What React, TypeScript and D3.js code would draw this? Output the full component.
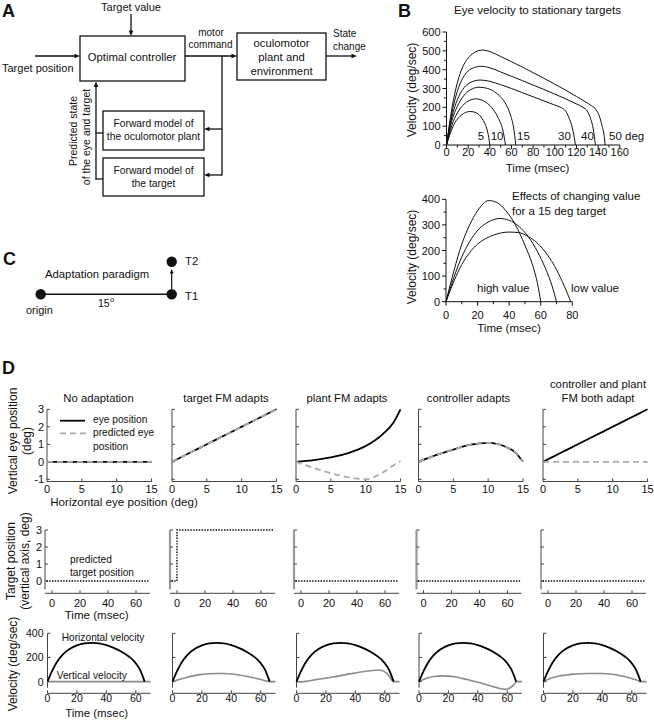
import React from 'react';
import * as d3 from 'd3';

const FONT = "'Liberation Sans', Arial, Helvetica, sans-serif";

// ---------------- Panel B (top): eye velocity to stationary targets ----------------
const bTopLabels = ['5', '10', '15', '30', '40', '50 deg'];
const bVel5: [number, number][] = [[0, 0], [4, 70], [8, 120], [12, 150], [16, 168], [22, 178], [27, 172], [31, 155], [34, 130], [37, 90], [39, 40], [40, 0]];
const bVel10: [number, number][] = [[0, 0], [5, 105], [10, 170], [15, 210], [20, 233], [27, 245], [33, 238], [38, 220], [43, 190], [48, 140], [52, 80], [54.5, 0]];
const bVel15: [number, number][] = [[0, 0], [5, 130], [10, 205], [15, 255], [20, 285], [30, 307], [38, 300], [45, 280], [50, 255], [55, 215], [59, 160], [62, 90], [64, 0]];
const bVel30: [number, number][] = [[0, 0], [5, 150], [10, 240], [15, 295], [20, 325], [31, 345], [40, 338], [50, 320], [60, 300], [70, 278], [80, 256], [90, 234], [100, 212], [106, 198], [110, 180], [113, 145], [116, 95], [118, 40], [119, 0]];
const bVel40: [number, number][] = [[0, 0], [5, 170], [10, 285], [15, 355], [20, 393], [25, 410], [32, 418], [40, 410], [50, 388], [60, 365], [70, 342], [80, 318], [90, 295], [100, 270], [110, 245], [120, 218], [126, 200], [130, 180], [133, 140], [135.5, 85], [137.5, 0]];
const bVel50: [number, number][] = [[0, 0], [5, 195], [10, 330], [15, 415], [20, 462], [25, 488], [33, 504], [40, 496], [50, 470], [60, 442], [70, 414], [80, 384], [90, 354], [100, 323], [110, 291], [120, 258], [128, 230], [134, 208], [138, 188], [141, 155], [143.5, 105], [145.5, 50], [146.5, 0]];
const bTopSeries = [bVel5, bVel10, bVel15, bVel30, bVel40, bVel50];
const bTopYTicks = [0, 100, 200, 300, 400, 500, 600];
const bTopXTicks = [0, 20, 40, 60, 80, 100, 120, 140, 160];

// ---------------- Panel B (bottom): effect of changing value ----------------
const bBotLabels = ['high value', 'low value'];
const bHigh: [number, number][] = [[0, 0], [5, 120], [10, 225], [15, 300], [20, 355], [27, 395], [32, 388], [38, 355], [44, 300], [50, 220], [55, 140], [58, 70], [60, 0]];
const bMid: [number, number][] = [[0, 0], [5, 95], [10, 175], [15, 235], [20, 278], [27, 312], [34, 325], [40, 318], [46, 295], [52, 255], [58, 195], [63, 130], [67, 65], [70, 0]];
const bLow: [number, number][] = [[0, 0], [5, 80], [10, 145], [15, 192], [20, 225], [30, 260], [40, 272], [46, 270], [52, 255], [58, 228], [64, 185], [70, 125], [75, 60], [79, 0]];
const bBotSeries = [bHigh, bMid, bLow];
const bBotYTicks = [0, 100, 200, 300, 400];
const bBotXTicks = [0, 20, 40, 60, 80];

// ---------------- Panel D ----------------
const dTitles = [['No adaptation'], ['target FM adapts'], ['plant FM adapts'], ['controller adapts'], ['controller and plant', 'FM both adapt']];
const dHorizPos = [0, 2.5, 5, 7.5, 10, 12.5, 14, 15];
const dEyePos = [
  [0, 0, 0, 0, 0, 0, 0, 0],
  [0, 0.5, 1, 1.5, 2, 2.5, 2.8, 3],
  [0, 0.1, 0.25, 0.5, 0.9, 1.6, 2.25, 3],
  [0, 0.38, 0.7, 0.98, 1.08, 0.86, 0.5, 0],
  [0, 0.5, 1, 1.5, 2, 2.5, 2.8, 3],
];
const dPredEyePos = [
  [0, 0, 0, 0, 0, 0, 0, 0],
  [0, 0.5, 1, 1.5, 2, 2.5, 2.8, 3],
  [0, -0.35, -0.65, -0.88, -1.0, -0.6, -0.2, 0.05],
  [0, 0.38, 0.7, 0.98, 1.08, 0.86, 0.5, 0],
  [0, 0, 0, 0, 0, 0, 0, 0],
];
const dRow1YTicks = [-1, 0, 1, 2, 3];
const dRow1XTicks = [0, 5, 10, 15];

const dPredTarget: [number, number][][] = [
  [[-4, 0], [69, 0]],
  [[-4, 0], [0, 0], [0, 3], [69, 3]],
  [[-4, 0], [69, 0]],
  [[-4, 0], [69, 0]],
  [[-4, 0], [69, 0]],
];
const dRow2YTicks = [0, 1, 2, 3];
const dRow2XTicks = [0, 20, 40, 60];

const dHorVel: [number, number][] = [[0, 0], [3, 85], [6, 155], [10, 220], [15, 270], [20, 300], [25, 316], [30, 320], [35, 316], [40, 302], [45, 280], [50, 250], [55, 210], [58, 180], [61, 135], [63, 95], [65, 35], [66, 0]];
const dVertVel: [number, number][][] = [
  [[0, 0], [70, 0]],
  [[0, 0], [5, 20], [10, 37], [15, 50], [20, 60], [25, 66], [30, 68], [35, 67], [40, 63], [45, 55], [50, 45], [55, 32], [60, 18], [64, 5], [66, 0], [70, 0]],
  [[0, 0], [3, -3], [6, 2], [10, 10], [15, 20], [20, 29], [25, 38], [30, 50], [35, 62], [40, 72], [45, 82], [50, 90], [55, 97], [58, 93], [61, 72], [63, 45], [65, 8], [66, 0], [70, 0]],
  [[0, 0], [3, 18], [6, 32], [10, 43], [15, 48], [20, 46], [25, 38], [30, 25], [35, 10], [40, -5], [45, -22], [50, -40], [55, -56], [59, -64], [62, -50], [64.5, -25], [66.5, 0], [70, 0]],
  [[0, 0], [3, 18], [6, 32], [10, 45], [15, 55], [20, 62], [25, 66], [30, 68], [35, 68], [40, 67], [45, 63], [50, 55], [55, 42], [60, 25], [64, 10], [66, 0], [70, 0]],
];
const dRow3YTicks = [0, 200, 400];
const dRow3XTicks = [0, 20, 40, 60];

// ---------------- helpers ----------------
const INK = '#111';

function Txt(props: any) {
  const { children, size = 11, anchor = 'start', weight = 'normal', ...rest } = props;
  return (
    <text fontFamily={FONT} fontSize={size} textAnchor={anchor} fontWeight={weight} fill={INK} {...rest}>
      {children}
    </text>
  );
}

function VTxt({ x, y, size = 12, children }: any) {
  return (
    <text fontFamily={FONT} fontSize={size} textAnchor="middle" dominantBaseline="central" fill={INK}
      transform={`translate(${x},${y}) rotate(-90)`}>
      {children}
    </text>
  );
}

function Arrow({ x1, y1, x2, y2, w = 1.3, head = 5.5 }: any) {
  const a = Math.atan2(y2 - y1, x2 - x1);
  const hx = x2 - head * Math.cos(a);
  const hy = y2 - head * Math.sin(a);
  const px = -Math.sin(a) * head * 0.42;
  const py = Math.cos(a) * head * 0.42;
  return (
    <g>
      <line x1={x1} y1={y1} x2={hx + Math.cos(a)} y2={hy + Math.sin(a)} stroke={INK} strokeWidth={w} />
      <polygon points={`${x2},${y2} ${hx + px},${hy + py} ${hx - px},${hy - py}`} fill={INK} />
    </g>
  );
}

const lineGen = (x: any, y: any) =>
  d3.line<[number, number]>().x(d => x(d[0])).y(d => y(d[1])).curve(d3.curveMonotoneX);

// ---------------- Panel A ----------------
function PanelA() {
  return (
    <g>
      <Txt x={2} y={17} size={18} weight="bold">A</Txt>
      <Txt x={131} y={11} anchor="middle">Target value</Txt>
      <Arrow x1={131} y1={14} x2={131} y2={36} />
      <rect x={80} y={36} width={105} height={45} fill="none" stroke={INK} strokeWidth={1.3} />
      <Txt x={132} y={61} anchor="middle" size={11.3}>Optimal controller</Txt>
      <Arrow x1={35} y1={56} x2={80} y2={56} />
      <Txt x={2} y={72}>Target position</Txt>
      <Arrow x1={185} y1={56} x2={237} y2={56} />
      <Txt x={211} y={36} anchor="middle" size={10}>motor</Txt>
      <Txt x={210.5} y={47.5} anchor="middle" size={10}>command</Txt>
      <rect x={237} y={33} width={89} height={47} fill="none" stroke={INK} strokeWidth={1.3} />
      <Txt x={281.5} y={47} anchor="middle" size={11.3}>oculomotor</Txt>
      <Txt x={281.5} y={61} anchor="middle" size={11.3}>plant and</Txt>
      <Txt x={281.5} y={74.5} anchor="middle" size={11.3}>environment</Txt>
      <Arrow x1={326} y1={56} x2={357} y2={56} />
      <Txt x={333} y={37} size={10}>State</Txt>
      <Txt x={333} y={49.5} size={10}>change</Txt>
      <line x1={222} y1={56} x2={222} y2={175.6} stroke={INK} strokeWidth={1.3} />
      <Arrow x1={222} y1={129} x2={204} y2={129} />
      <Arrow x1={222} y1={175} x2={204} y2={175} />
      <rect x={103} y={111} width={101} height={39} fill="none" stroke={INK} strokeWidth={1.3} />
      <rect x={103} y={158} width={101} height={38} fill="none" stroke={INK} strokeWidth={1.3} />
      <Txt x={153.5} y={127} anchor="middle" size={10.3}>Forward model of</Txt>
      <Txt x={153.5} y={139.5} anchor="middle" size={10.3}>the oculomotor plant</Txt>
      <Txt x={153.5} y={174} anchor="middle" size={10.3}>Forward model of</Txt>
      <Txt x={153.5} y={186.5} anchor="middle" size={10.3}>the target</Txt>
      <line x1={103} y1={133} x2={95.4} y2={133} stroke={INK} strokeWidth={1.3} />
      <line x1={103} y1={179} x2={95.4} y2={179} stroke={INK} strokeWidth={1.3} />
      <Arrow x1={96} y1={179.6} x2={96} y2={81.5} />
      <VTxt x={73} y={131} size={10.5}>Predicted state</VTxt>
      <VTxt x={86} y={137} size={10.5}>of the eye and target</VTxt>
    </g>
  );
}

// ---------------- Panel B ----------------
function BAxes({ x, y, xTicks, yTicks, xMinor, yMinor, labelY }: any) {
  const [x0, x1] = x.range();
  const [y0, y1] = y.range();
  return (
    <g>
      <line x1={x0} y1={y0} x2={x0} y2={y1} stroke={INK} strokeWidth={1} />
      <line x1={x0} y1={y0} x2={x1} y2={y0} stroke={INK} strokeWidth={1} />
      {yTicks.map((t: number) => (
        <g key={'y' + t}>
          <line x1={x0 - 4} x2={x0} y1={y(t)} y2={y(t)} stroke={INK} />
          <Txt x={x0 - 6} y={y(t) + 4} anchor="end">{t}</Txt>
        </g>
      ))}
      {yMinor.map((t: number) => (
        <line key={'ym' + t} x1={x0 - 2.5} x2={x0} y1={y(t)} y2={y(t)} stroke={INK} />
      ))}
      {xTicks.map((t: number) => (
        <g key={'x' + t}>
          <line x1={x(t)} x2={x(t)} y1={y0} y2={y0 + 4} stroke={INK} />
          <Txt x={x(t)} y={labelY} anchor="middle">{t}</Txt>
        </g>
      ))}
      {xMinor.map((t: number) => (
        <line key={'xm' + t} x1={x(t)} x2={x(t)} y1={y0} y2={y0 + 2.5} stroke={INK} />
      ))}
    </g>
  );
}

function PanelB() {
  const xT = d3.scaleLinear().domain([0, 160]).range([446.5, 619.8]);
  const yT = d3.scaleLinear().domain([0, 600]).range([145, 32]);
  const lT = lineGen(xT, yT);
  const xB = d3.scaleLinear().domain([0, 80]).range([446, 572.3]);
  const yB = d3.scaleLinear().domain([0, 400]).range([301.7, 199.3]);
  const lB = lineGen(xB, yB);
  const topLabelX = [477.7, 490.7, 517, 558, 581, 609];
  return (
    <g>
      <Txt x={398} y={17} size={18} weight="bold">B</Txt>
      <Txt x={537.5} y={14} anchor="middle" size={11.6}>Eye velocity to stationary targets</Txt>
      <BAxes x={xT} y={yT} xTicks={bTopXTicks} yTicks={bTopYTicks}
        xMinor={bTopXTicks.slice(0, -1).map(t => t + 10)} yMinor={bTopYTicks.slice(0, -1).map(t => t + 50)} labelY={155.5} />
      {bTopSeries.map((s, i) => (
        <path key={i} d={lT(s) || ''} fill="none" stroke={INK} strokeWidth={1} />
      ))}
      {bTopLabels.map((l, i) => (
        <Txt key={l} x={topLabelX[i]} y={140} size={11.5}>{l}</Txt>
      ))}
      <Txt x={537.5} y={172} anchor="middle" size={11.5}>Time (msec)</Txt>
      <VTxt x={412} y={90} size={12}>Velocity (deg/sec)</VTxt>

      <BAxes x={xB} y={yB} xTicks={bBotXTicks} yTicks={bBotYTicks}
        xMinor={bBotXTicks.slice(0, -1).map(t => t + 10)} yMinor={bBotYTicks.slice(0, -1).map(t => t + 50)} labelY={319} />
      {bBotSeries.map((s, i) => (
        <path key={i} d={lB(s) || ''} fill="none" stroke={INK} strokeWidth={1} />
      ))}
      <Txt x={512} y={200} size={11.5}>Effects of changing value</Txt>
      <Txt x={512} y={215} size={11.5}>for a 15 deg target</Txt>
      <Txt x={477} y={292} size={11.5}>{bBotLabels[0]}</Txt>
      <Txt x={571} y={292} size={11.5}>{bBotLabels[1]}</Txt>
      <Txt x={509} y={332} anchor="middle" size={11.5}>Time (msec)</Txt>
      <VTxt x={412} y={257} size={12}>Velocity (deg/sec)</VTxt>
    </g>
  );
}

// ---------------- Panel C ----------------
function PanelC() {
  return (
    <g>
      <Txt x={3} y={265} size={18} weight="bold">C</Txt>
      <Txt x={45} y={278} size={11.3}>Adaptation paradigm</Txt>
      <line x1={40.7} y1={294.3} x2={171.7} y2={294.3} stroke={INK} strokeWidth={1.5} />
      <circle cx={40.7} cy={294.3} r={5.2} fill={INK} />
      <circle cx={171.7} cy={294.3} r={5.2} fill={INK} />
      <circle cx={171.7} cy={261.7} r={5.2} fill={INK} />
      <Arrow x1={171.7} y1={289} x2={171.7} y2={269} w={1.2} head={4.5} />
      <Txt x={185} y={264.5} size={11.3}>T2</Txt>
      <Txt x={185} y={300} size={11.3}>T1</Txt>
      <Txt x={26} y={314} size={11}>origin</Txt>
      <Txt x={98} y={307} size={10.5}>15</Txt>
      <Txt x={110} y={302} size={7.5}>o</Txt>
    </g>
  );
}

// ---------------- Panel D ----------------
const dX0 = [47, 172, 296, 418.5, 543];
const dTitleX = [98.5, 226, 347, 468.5, 598];
const AX = '#444';

function DAxes({ x, y, xTicks, yTicks, axisY, showYLabels, yColor = AX, yWidth = 1, xLabelY, yLabelDx = 3, tickSize = 11 }: any) {
  const [xl, xr] = x.range();
  const [yb, yt] = y.range();
  return (
    <g>
      <line x1={xl} x2={xl} y1={yb} y2={yt} stroke={yColor} strokeWidth={yWidth} />
      {yTicks.map((t: number) => (
        <g key={'y' + t}>
          <line x1={xl} x2={xl + 3} y1={y(t)} y2={y(t)} stroke={AX} />
          {showYLabels && <Txt x={xl - yLabelDx} y={y(t) + 4} anchor="end" size={tickSize}>{t}</Txt>}
        </g>
      ))}
      <line x1={xl} x2={xr} y1={axisY} y2={axisY} stroke={AX} strokeWidth={1} />
      {xTicks.map((t: number) => (
        <g key={'x' + t}>
          <line x1={x(t)} x2={x(t)} y1={axisY} y2={axisY - 3} stroke={AX} />
          <Txt x={x(t)} y={xLabelY} anchor="middle" size={tickSize}>{t}</Txt>
        </g>
      ))}
    </g>
  );
}

function PanelD() {
  return (
    <g>
      <Txt x={2} y={374} size={18} weight="bold">D</Txt>
      {dTitles.map((t, i) => (
        t.length === 1
          ? <Txt key={i} x={dTitleX[i]} y={402} anchor="middle" size={11.3}>{t[0]}</Txt>
          : <g key={i}>
              <Txt x={dTitleX[i]} y={387.5} anchor="middle" size={11.3}>{t[0]}</Txt>
              <Txt x={dTitleX[i]} y={402} anchor="middle" size={11.3}>{t[1]}</Txt>
            </g>
      ))}
      {dX0.map((x0, i) => {
        // Row 1
        const x1 = d3.scaleLinear().domain([0, 15]).range([x0, x0 + 104.5]);
        const y1 = d3.scaleLinear().domain([-1, 3]).range([479.3, 409.3]);
        const l1 = lineGen(x1, y1);
        const eye = dHorizPos.map((h, k) => [h, dEyePos[i][k]] as [number, number]);
        const pred = dHorizPos.map((h, k) => [h, dPredEyePos[i][k]] as [number, number]);
        // Row 2
        const x2 = d3.scaleLinear().domain([-5, 70]).range([x0 - 2, x0 + 103]);
        const y2 = d3.scaleLinear().domain([-0.5, 3]).range([589.5, 530]);
        const l2 = d3.line<[number, number]>().x(d => x2(d[0])).y(d => y2(d[1]));
        // Row 3
        const x3 = d3.scaleLinear().domain([0, 70]).range([x0 + 0.5, x0 + 103.5]);
        const y3 = d3.scaleLinear().domain([-50, 400]).range([687.7, 633.3]);
        const l3 = lineGen(x3, y3);
        const gray2 = i >= 1 && i <= 3;
        return (
          <g key={i}>
            <DAxes x={x1} y={y1} xTicks={dRow1XTicks} yTicks={dRow1YTicks} axisY={481.5}
              showYLabels={i === 0} xLabelY={492.5} />
            <path d={l1(eye) || ''} fill="none" stroke="#000" strokeWidth={1.8} />
            <path d={l1(pred) || ''} fill="none" stroke="#aaa" strokeWidth={1.8} strokeDasharray="6 4" />

            <DAxes x={x2} y={y2} xTicks={dRow2XTicks} yTicks={dRow2YTicks} axisY={593.3}
              showYLabels={i === 0} xLabelY={607} yColor={gray2 ? '#9a9a9a' : AX} yWidth={gray2 ? 2.2 : 1} />
            <path d={l2(dPredTarget[i]) || ''} fill="none" stroke="#000" strokeWidth={1.4} strokeDasharray="1.4 1.4" />

            <DAxes x={x3} y={y3} xTicks={dRow3XTicks} yTicks={dRow3YTicks} axisY={693.3}
              showYLabels={i === 0} xLabelY={702.3} yLabelDx={4} tickSize={10.5} />
            <path d={l3(dVertVel[i]) || ''} fill="none" stroke="#8c8c8c" strokeWidth={1.6} />
            <path d={l3(dHorVel) || ''} fill="none" stroke="#000" strokeWidth={1.8} />
          </g>
        );
      })}
      {/* legend */}
      <line x1={60} x2={85} y1={420.7} y2={420.7} stroke="#000" strokeWidth={1.8} />
      <line x1={60} x2={86} y1={433.3} y2={433.3} stroke="#aaa" strokeWidth={1.8} strokeDasharray="6 4" />
      <Txt x={93} y={423} size={10.2}>eye position</Txt>
      <Txt x={93} y={436} size={10.2}>predicted eye</Txt>
      <Txt x={93} y={449.5} size={10.2}>position</Txt>
      <Txt x={124} y={505.5} anchor="middle" size={11.6}>Horizontal eye position (deg)</Txt>
      <VTxt x={12.7} y={441} size={12}>Vertical eye position</VTxt>
      <VTxt x={27.3} y={441} size={12}>(deg)</VTxt>

      <Txt x={70} y={563} size={10.2}>predicted</Txt>
      <Txt x={70} y={575.5} size={10.2}>target position</Txt>
      <Txt x={96.7} y={619} anchor="middle" size={11.6}>Time (msec)</Txt>
      <VTxt x={11} y={561} size={12}>Target position</VTxt>
      <VTxt x={24.5} y={561} size={12}>(vertical axis, deg)</VTxt>

      <Txt x={61.7} y={641} size={10.2}>Horizontal velocity</Txt>
      <Txt x={56.7} y={678.5} size={10.2}>Vertical velocity</Txt>
      <Txt x={96.7} y={716.5} anchor="middle" size={11.4}>Time (msec)</Txt>
      <VTxt x={12.7} y={664} size={12}>Velocity (deg/sec)</VTxt>
    </g>
  );
}

export default function App() {
  return (
    <svg width={654} height={720} viewBox="0 0 654 720"
      style={{ position: 'absolute', left: 0, top: 0, background: '#fff' }}>
      <rect width={654} height={720} fill="#fff" />
      <PanelA />
      <PanelB />
      <PanelC />
      <PanelD />
    </svg>
  );
}
